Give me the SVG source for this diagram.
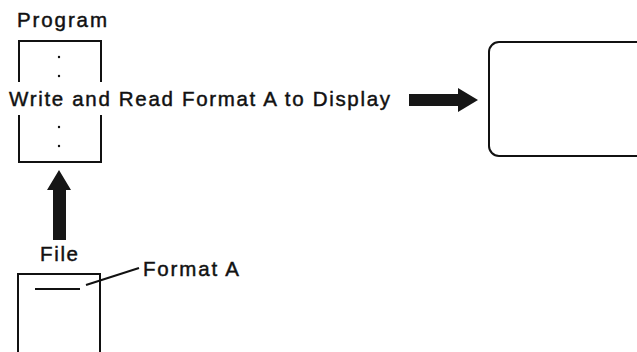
<svg xmlns="http://www.w3.org/2000/svg" width="637" height="352" viewBox="0 0 637 352">
<style>
.t{font-family:"Liberation Sans",Arial,sans-serif;font-size:20.5px;fill:#111;stroke:#111;stroke-width:0.45}
.ln{fill:none;stroke:#111;stroke-width:2}
.dot{fill:#111}
.ar{fill:#161616}
</style>
<rect width="637" height="352" fill="#fff"/>
<g id="program">
<text class="t" x="17" y="27" textLength="90" lengthAdjust="spacing">Program</text>
<path class="ln" d="M19 82 V41 H101 V82 M19 115 V162 H101 V115"/>
<circle class="dot" cx="59" cy="57" r="1.2"/>
<circle class="dot" cx="59" cy="76" r="1.2"/>
<circle class="dot" cx="59" cy="127" r="1.2"/>
<circle class="dot" cx="59" cy="146" r="1.2"/>
</g>
<g id="label-write">
<text class="t" x="9" y="106" textLength="381" lengthAdjust="spacing">Write and Read Format A to Display</text>
</g>
<g id="display">
<rect class="ln" x="489" y="42" width="200" height="114" rx="10" ry="10"/>
</g>
<g id="file">
<text class="t" x="40" y="261" textLength="38" lengthAdjust="spacing">File</text>
<path class="ln" d="M18 352 V274 H100 V352"/>
<line class="ln" x1="35" y1="289" x2="80" y2="289" stroke-width="1.5"/>
</g>
<g id="format-a">
<text class="t" x="143" y="276" textLength="96" lengthAdjust="spacing">Format A</text>
</g>
<g id="connectors">
<polygon class="ar" points="53,240 66,240 66,190 71,190 59,170 47,190 53,190"/>
<polygon class="ar" points="409,94 458,94 458,88 478,100 458,112 458,106 409,106"/>
<line class="ln" x1="86" y1="285" x2="139" y2="268" stroke-width="1.5"/>
</g>
</svg>
